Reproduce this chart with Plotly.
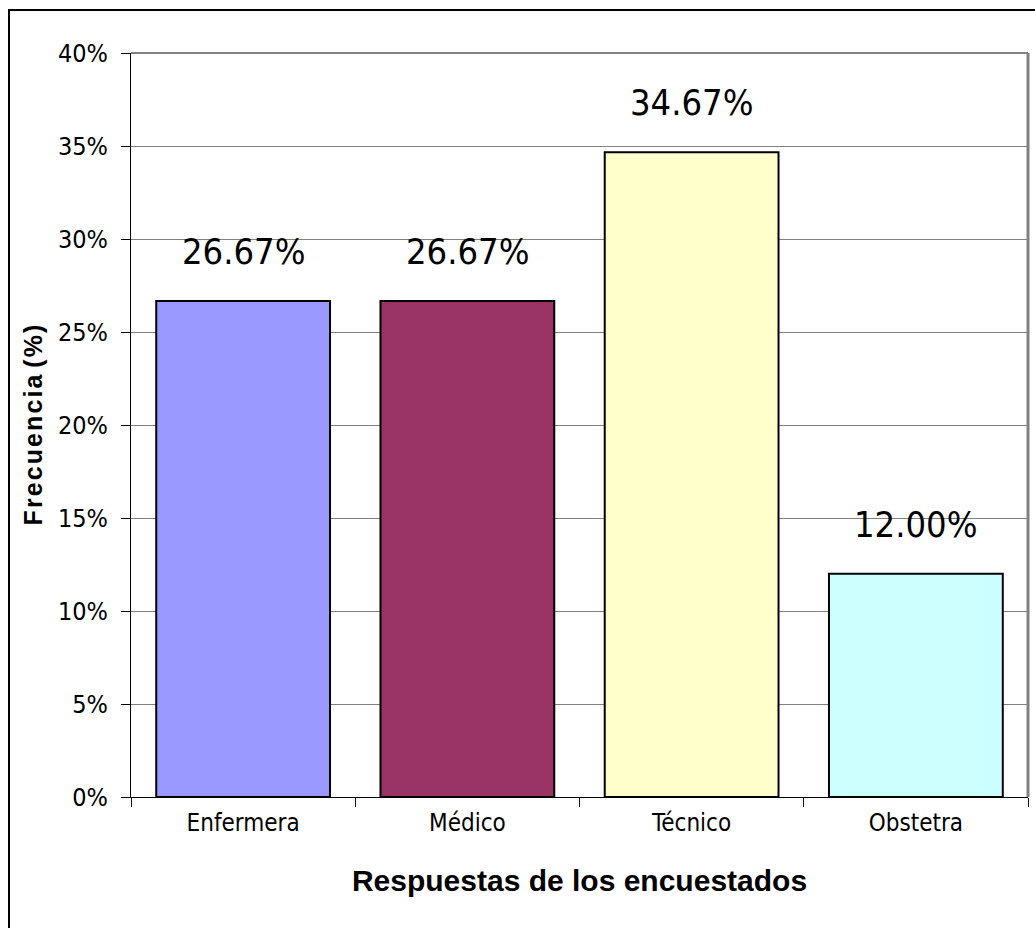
import plotly.graph_objects as go

# Survey results: share of respondents by profession
categories = ["Enfermera", "Médico", "Técnico", "Obstetra"]
values = [0.2667, 0.2667, 0.3467, 0.1200]
bar_colors = ["#9999FF", "#993366", "#FFFFCC", "#CCFFFF"]
y_ticks = [0, 0.05, 0.10, 0.15, 0.20, 0.25, 0.30, 0.35, 0.40]
y_tick_text = ["0%", "5%", "10%", "15%", "20%", "25%", "30%", "35%", "40%"]

NARROW = "DejaVu Sans Condensed, Liberation Sans Narrow, sans-serif"
BOLD = "Liberation Sans, Arial, sans-serif"

W, H = 1035, 928
L, R, T, B = 131, 7, 53, 131

fig = go.Figure()
fig.add_trace(go.Bar(
    x=categories,
    y=values,
    marker=dict(color=bar_colors, line=dict(color="black", width=2)),
    width=0.775,
    hoverinfo="skip",
))

# value labels above each bar
for cat, v in zip(categories, values):
    fig.add_annotation(
        x=cat, y=v, text=f"{v*100:.2f}%",
        showarrow=False, yanchor="bottom", yshift=27,
        font=dict(family=NARROW, size=36, color="black"),
    )

pw = W - L - R
ph = H - T - B
# outer chart frame (right and bottom edges fall outside the canvas)
fig.add_shape(type="rect", xref="paper", yref="paper",
              x0=(9 - L) / pw, x1=(W + 10 - L) / pw,
              y0=-(H + 10 - T - ph) / ph, y1=1 + (T - 10) / ph,
              line=dict(color="black", width=2), layer="below")
# plot-area border: top and right edges in grey
fig.add_shape(type="line", xref="paper", yref="paper", x0=0, x1=1, y0=1, y1=1,
              line=dict(color="#808080", width=2))
fig.add_shape(type="line", xref="paper", yref="paper", x0=1, x1=1, y0=0, y1=1,
              line=dict(color="#808080", width=3))

hs = "\u200a"  # hair space for the spaced-out axis title
y_title = hs.join("Frecuencia") + " " + hs.join("(%)")

fig.update_layout(
    width=W, height=H,
    margin=dict(l=L, r=R, t=T, b=B),
    paper_bgcolor="white", plot_bgcolor="white",
    showlegend=False,
    xaxis=dict(
        showline=True, linecolor="black", linewidth=1,
        ticks="outside", tickson="boundaries", ticklen=9, tickcolor="black",
        tickfont=dict(family=NARROW, size=24, color="black"),
        ticklabelstandoff=4,
        title=dict(text="<b>Respuestas de los encuestados</b>",
                   font=dict(family=BOLD, size=30, color="black"), standoff=34),
        showgrid=False,
    ),
    yaxis=dict(
        range=[0, 0.4], tickvals=y_ticks, ticktext=y_tick_text,
        showline=True, linecolor="black", linewidth=1,
        ticks="outside", ticklen=9, tickcolor="black",
        tickfont=dict(family=NARROW, size=25, color="black"),
        ticklabelstandoff=8,
        showgrid=True, gridcolor="#808080", gridwidth=1,
        title=dict(text=f"<b>{y_title}</b>",
                   font=dict(family=BOLD, size=25, color="black"), standoff=8),
        zeroline=False,
    ),
)

fig.write_html("out.html")
